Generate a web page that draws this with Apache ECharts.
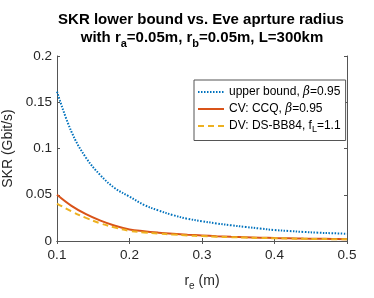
<!DOCTYPE html>
<html><head><meta charset="utf-8">
<script src="https://cdn.jsdelivr.net/npm/echarts@6/dist/echarts.min.js"></script>
<style>html,body{margin:0;padding:0;background:#fff}#c{width:374px;height:298px}</style>
</head><body><div id="c"></div>
<script>
const rE = [0.10,0.12,0.14,0.16,0.18,0.20,0.22,0.24,0.26,0.28,0.30,0.32,0.34,0.36,0.38,0.40,0.42,0.44,0.46,0.48,0.50];
const upperBound = [0.1615,0.118,0.090,0.071,0.057,0.048,0.039,0.033,0.028,0.024,0.0214,0.019,0.017,0.0152,0.0135,0.0118,0.0108,0.0098,0.009,0.0084,0.0078];
const cvCCQ = [0.050,0.038,0.029,0.022,0.0165,0.0125,0.0105,0.009,0.0078,0.0068,0.006,0.0052,0.0046,0.0041,0.0036,0.0032,0.0029,0.0026,0.0024,0.0022,0.002];
const dvBB84 = [0.0405,0.032,0.025,0.019,0.0145,0.011,0.0093,0.008,0.007,0.006,0.0053,0.0047,0.0042,0.0037,0.0033,0.003,0.0027,0.0024,0.0022,0.002,0.0018];
const xTickLabels = ['0.1','0.2','0.3','0.4','0.5'];
const yTickLabels = ['0','0.05','0.1','0.15','0.2'];
const seriesNames = ['upper bound','CV','DV'];

const FONT = 'Liberation Sans, Arial, sans-serif';
const AX = '#262626';
const pairs = arr => rE.map((x,i)=>[x,arr[i]]);
const xFmt = v => xTickLabels[Math.round((v-0.1)/0.1)] || '';
const yFmt = v => yTickLabels[Math.round(v/0.05)] || '';

const chart = echarts.init(document.getElementById('c'), null, {renderer:'canvas'});
const baseAxis = {
  axisLine:{show:true,lineStyle:{color:'#555',width:1}},
  axisTick:{show:true,inside:true,length:3,lineStyle:{color:'#555'}},
  splitLine:{show:false},
};
chart.setOption({
  animation:false,
  backgroundColor:'#fff',
  grid:{left:57,right:27,top:56,bottom:57,containLabel:false,outerBoundsMode:'none'},
  graphic:[
    {type:'text',style:{x:201,y:20,text:'SKR lower bound vs. Eve aprture radius',align:'center',verticalAlign:'middle',font:'bold 15px '+FONT,fill:'#000'}},
    {type:'text',style:{x:202,y:38,align:'center',verticalAlign:'middle',fill:'#000',
      text:'with r{s|a}=0.05m, r{s|b}=0.05m, L=300km',font:'bold 15px '+FONT,
      rich:{s:{fontSize:11,fontWeight:'bold',fontFamily:FONT,padding:[12,0,0,0]}}}}
  ],
  legend:{
    orient:'vertical',left:194,top:80,
    itemWidth:26,itemHeight:10,itemGap:5,
    padding:[6,5,6,3],
    borderColor:'#555',borderWidth:1,backgroundColor:'#fff',
    itemStyle:{color:'rgba(0,0,0,0)',borderColor:'rgba(0,0,0,0)',borderWidth:0},
    textStyle:{fontSize:12,fontFamily:FONT,color:'#000',
      rich:{b:{fontSize:12,fontStyle:'italic',fontFamily:'DejaVu Serif'},s:{fontSize:9,padding:[8,0,0,0]}}},
    formatter:n=>{
      if(n===seriesNames[0]) return 'upper bound, {b|β}=0.95';
      if(n===seriesNames[1]) return 'CV: CCQ, {b|β}=0.95';
      return 'DV: DS-BB84, f{s|L}=1.1';
    },
    data:seriesNames
  },
  xAxis:[
    Object.assign({},baseAxis,{type:'value',min:0.1,max:0.5,interval:0.1,position:'bottom',
      axisLabel:{formatter:xFmt,fontSize:13.5,fontFamily:FONT,color:AX,margin:7},
      name:'r{s|e} (m)',nameLocation:'middle',nameGap:30,
      nameTextStyle:{fontSize:14,fontFamily:FONT,color:AX,rich:{s:{fontSize:10,padding:[10,0,0,0]}}}}),
    Object.assign({},baseAxis,{type:'value',min:0.1,max:0.5,interval:0.1,position:'top',axisLabel:{show:false}})
  ],
  yAxis:[
    Object.assign({},baseAxis,{type:'value',min:0,max:0.2,interval:0.05,position:'left',
      axisLabel:{formatter:yFmt,fontSize:13.5,fontFamily:FONT,color:AX,margin:5},
      name:'SKR (Gbit/s)',nameLocation:'middle',nameGap:33,
      nameTextStyle:{fontSize:14,fontFamily:FONT,color:AX}}),
    Object.assign({},baseAxis,{type:'value',min:0,max:0.2,interval:0.05,position:'right',axisLabel:{show:false}})
  ],
  series:[
    {name:seriesNames[0],type:'line',data:pairs(upperBound),smooth:0.4,symbol:'none',
      lineStyle:{color:'#0072BD',width:2,type:[1.5,1.5]},itemStyle:{color:'#0072BD'}},
    {name:seriesNames[1],type:'line',data:pairs(cvCCQ),smooth:0.4,symbol:'none',
      lineStyle:{color:'#D95319',width:2},itemStyle:{color:'#D95319'}},
    {name:seriesNames[2],type:'line',data:pairs(dvBB84),smooth:0.4,symbol:'none',
      lineStyle:{color:'#EDB120',width:2,type:[6,4]},itemStyle:{color:'#EDB120'}}
  ]
});
</script></body></html>
